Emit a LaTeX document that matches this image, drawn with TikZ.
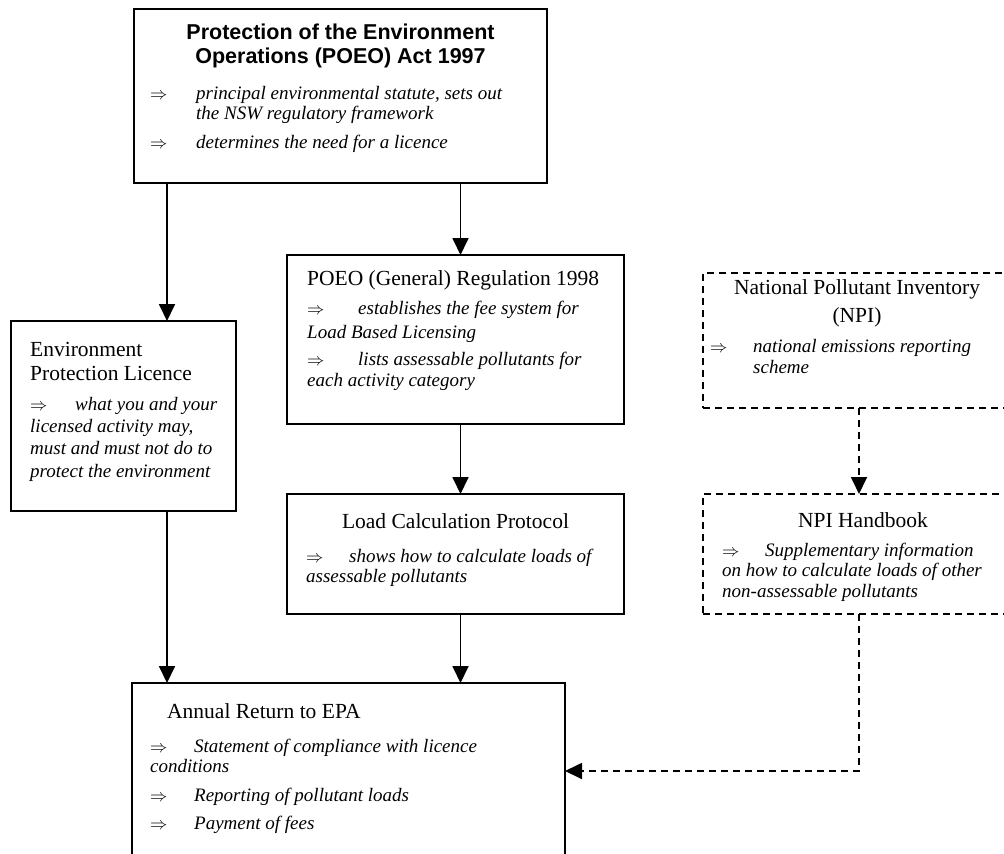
\documentclass[tikz,border=0pt]{standalone}
\usepackage{fontspec}
\setmainfont{Liberation Serif}
\newfontfamily\arialfont{Liberation Sans}
\usetikzlibrary{arrows.meta}
\begin{document}
\begin{tikzpicture}[x=1pt,y=-1pt,
 box/.style={draw, line width=1.8pt, inner sep=0pt, outer sep=0pt, anchor=north west},
 dbox/.style={box, dash pattern=on 7pt off 5pt},
 arr/.style={line width=1.8pt, -{Triangle[length=17pt,width=16pt]}},
 darr/.style={arr, dash pattern=on 7pt off 5pt},
 head/.style={font=\fontsize{21.5}{24}\selectfont, anchor=base west, inner sep=0pt},
 chead/.style={head, anchor=base},
 body/.style={font=\fontsize{19}{22}\selectfont\itshape, anchor=base west, inner sep=0pt},
 sym/.style={font=\fontsize{19}{22}\selectfont, anchor=base west, inner sep=0pt},
 title/.style={font=\arialfont\bfseries\fontsize{21.5}{24}\selectfont, anchor=base, inner sep=0pt}]
\useasboundingbox (0,0) rectangle (1004,854);
\clip (0,0) rectangle (1004,854);
\fill[white] (0,0) rectangle (1004,854);

% boxes
\node[box, minimum width=413pt, minimum height=174pt] (top) at (134,9) {};
\node[box, minimum width=225pt, minimum height=190pt] (epl) at (11,321) {};
\node[box, minimum width=337pt, minimum height=169pt] (reg) at (287,255) {};
\node[dbox, minimum width=310pt, minimum height=135pt] (npi) at (703,273) {};
\node[dbox, minimum width=310pt, minimum height=120pt] (hb) at (703,494) {};
\node[box, minimum width=337pt, minimum height=120pt] (lcp) at (287,494) {};
\node[box, minimum width=433pt, minimum height=220pt] (ar) at (132,683) {};

% top box text
\node[title] (t1) at (340.5,39) {Protection of the Environment};
\node[title] (t2) at (340.5,63) {Operations (POEO) Act 1997};
\node[sym] (t3s) at (150,99) {$\Rightarrow$};
\node[body] (t3) at (196,99) {principal environmental statute, sets out};
\node[body] (t4) at (196,119) {the NSW regulatory framework};
\node[sym] (t5s) at (150,148) {$\Rightarrow$};
\node[body] (t5) at (196,148) {determines the need for a licence};

% EPL text
\node[head] (e1) at (30,356) {Environment};
\node[head] (e2) at (30,380) {Protection Licence};
\node[sym] (e3s) at (30,410) {$\Rightarrow$};
\node[body] (e3) at (75,410) {what you and your};
\node[body] (e4) at (30,432) {licensed activity may,};
\node[body] (e5) at (30,454) {must and must not do to};
\node[body] (e6) at (30,477) {protect the environment};

% Regulation text
\node[head] (r1) at (307,285) {POEO (General) Regulation 1998};
\node[sym] (r2s) at (307,314) {$\Rightarrow$};
\node[body] (r2) at (358,314) {establishes the fee system for};
\node[body] (r3) at (307,338) {Load Based Licensing};
\node[sym] (r4s) at (307,365) {$\Rightarrow$};
\node[body] (r4) at (358,365) {lists assessable pollutants for};
\node[body] (r5) at (307,386) {each activity category};

% NPI text
\node[chead] (n1) at (857,294) {National Pollutant Inventory};
\node[chead] (n2) at (857,322) {(NPI)};
\node[sym] (n3s) at (710,352) {$\Rightarrow$};
\node[body] (n3) at (753,352) {national emissions reporting};
\node[body] (n4) at (753,373) {scheme};

% Handbook text
\node[chead] (h1) at (863,527) {NPI Handbook};
\node[sym] (h2s) at (722,556) {$\Rightarrow$};
\node[body] (h2) at (765,556) {Supplementary information};
\node[body] (h3) at (722,576) {on how to calculate loads of other};
\node[body] (h4) at (722,597) {non-assessable pollutants};

% LCP text
\node[chead] (l1) at (455.5,528) {Load Calculation Protocol};
\node[sym] (l2s) at (306,562) {$\Rightarrow$};
\node[body] (l2) at (349,562) {shows how to calculate loads of};
\node[body] (l3) at (306,582) {assessable pollutants};

% Annual return text
\node[head] (a1) at (167,718) {Annual Return to EPA};
\node[sym] (a2s) at (150,752) {$\Rightarrow$};
\node[body] (a2) at (194,752) {Statement of compliance with licence};
\node[body] (a3) at (150,772) {conditions};
\node[sym] (a4s) at (150,801) {$\Rightarrow$};
\node[body] (a4) at (194,801) {Reporting of pollutant loads};
\node[sym] (a5s) at (150,829) {$\Rightarrow$};
\node[body] (a5) at (194,829) {Payment of fees};

% connectors
\coordinate (xl) at (167,0);
\coordinate (xm) at (460.5,0);
\coordinate (xr) at (859,0);
\coordinate (yd) at (0,771);
\draw[arr] (top.south -| xl) -- (epl.north -| xl);
\draw[arr] (top.south -| xm) -- (reg.north -| xm);
\draw[arr] (reg.south -| xm) -- (lcp.north -| xm);
\draw[arr] (epl.south -| xl) -- (ar.north -| xl);
\draw[arr] (lcp.south -| xm) -- (ar.north -| xm);
\draw[darr] (npi.south -| xr) -- (hb.north -| xr);
\draw[darr] (hb.south -| xr) -- (xr |- yd) -- (ar.east |- yd);
\end{tikzpicture}
\end{document}
